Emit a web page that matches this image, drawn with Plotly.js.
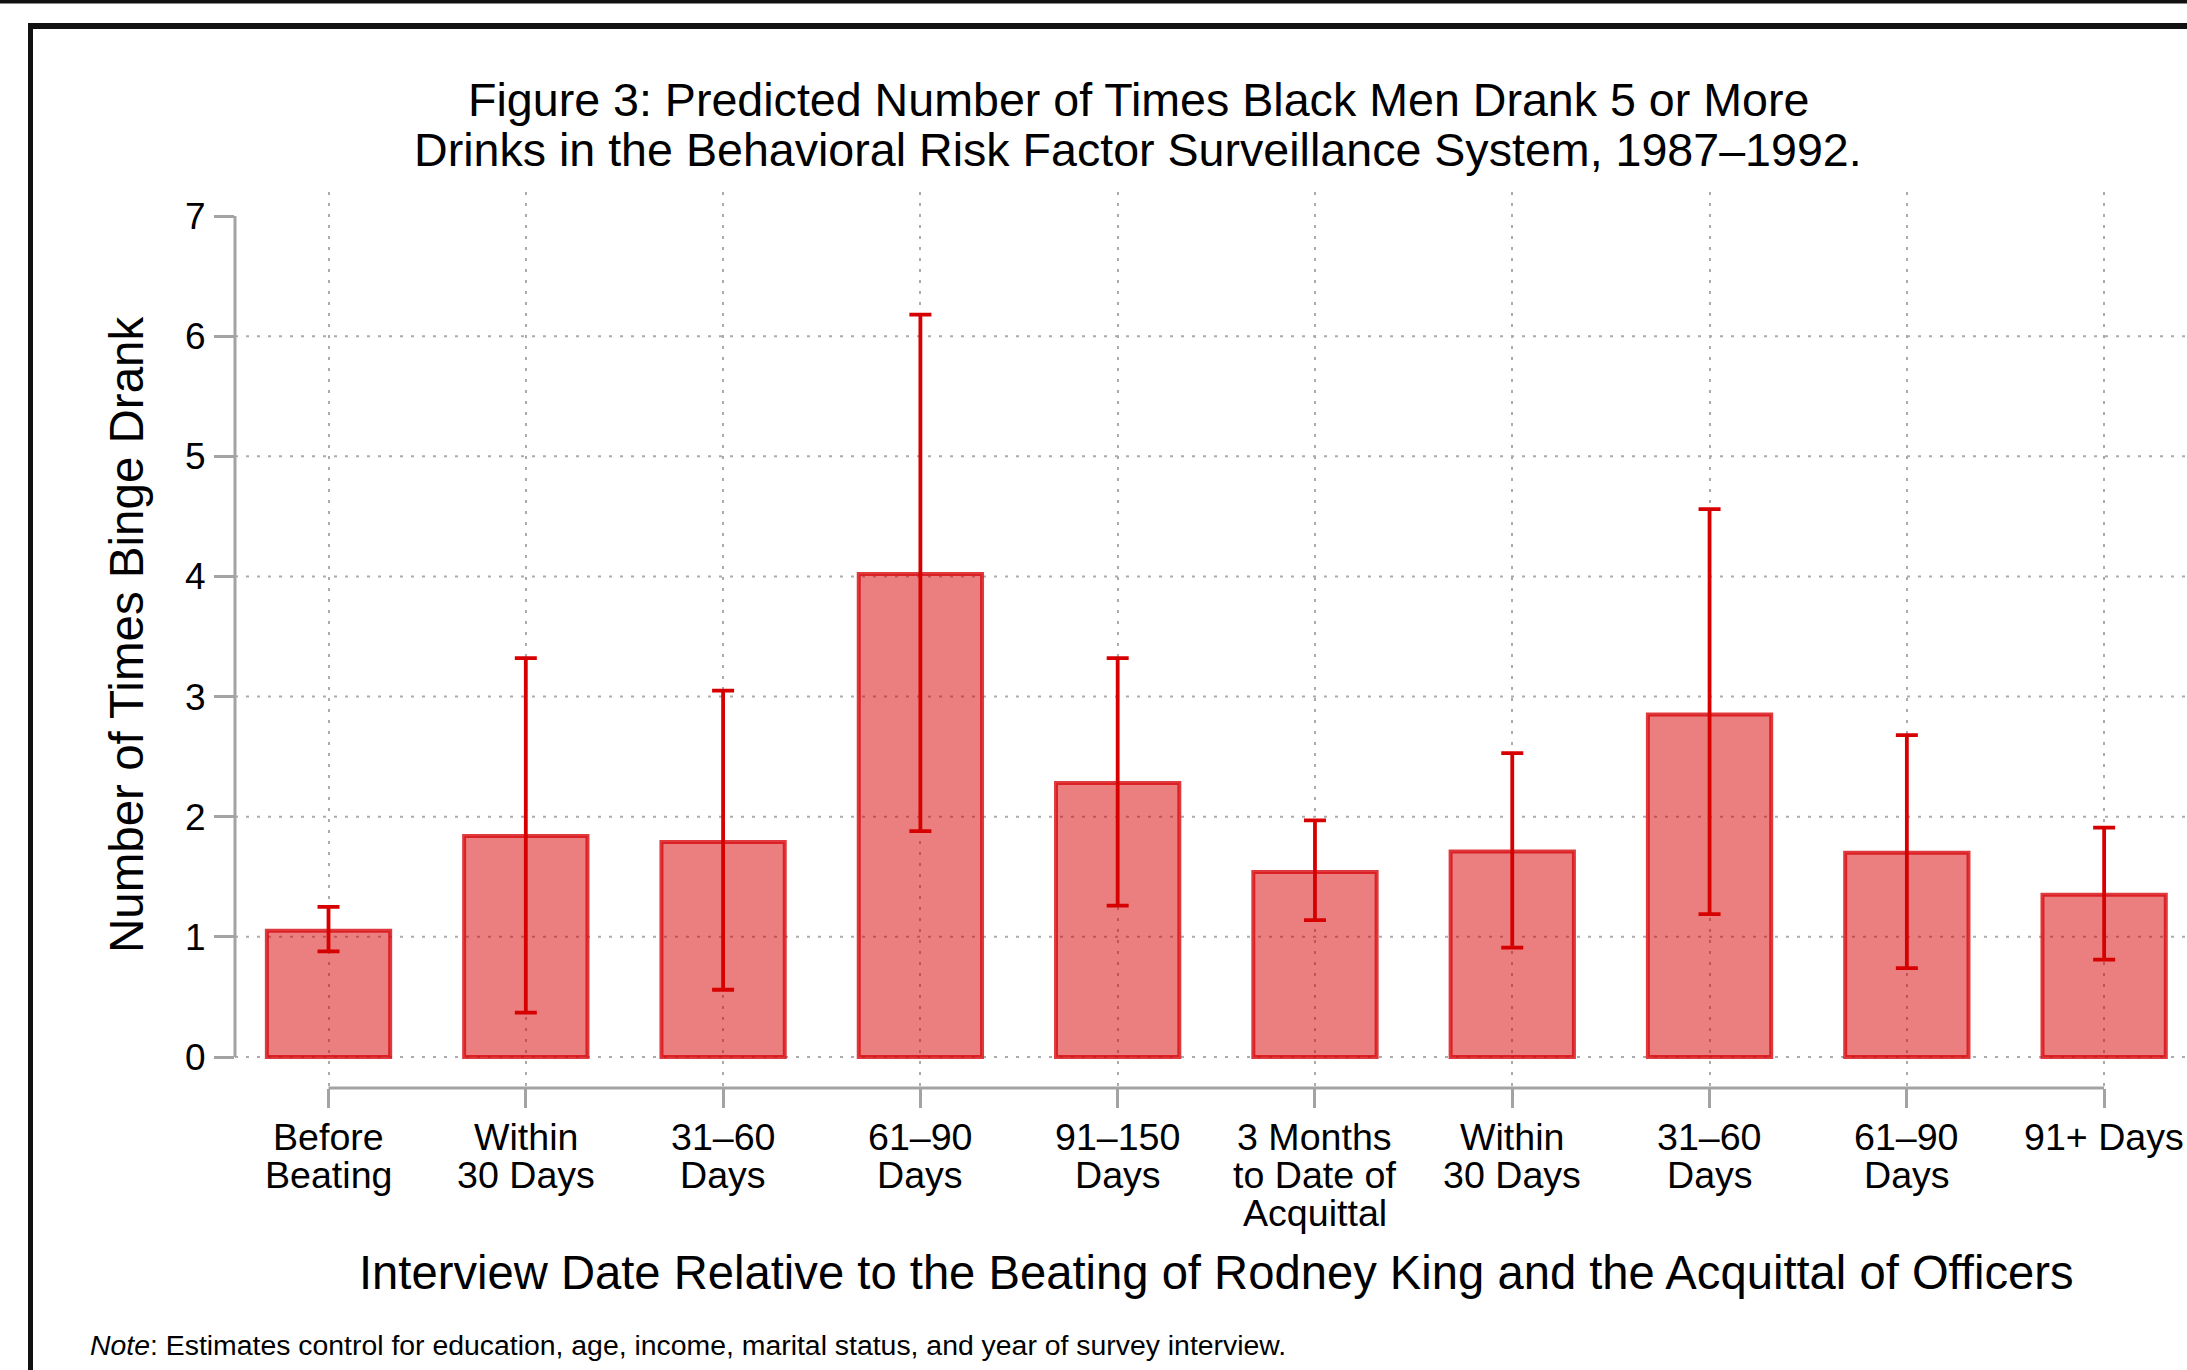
<!DOCTYPE html>
<html>
<head>
<meta charset="utf-8">
<script src="https://cdn.plot.ly/plotly-3.0.1.min.js"></script>
<style>
html, body { margin: 0; padding: 0; background: #ffffff; }
#chart { width: 2187px; height: 1370px; }
</style>
</head>
<body>
<div id="chart"></div>
<script>
// ---------- data ----------
const categories = [
  "Before<br>Beating",
  "Within<br>30 Days",
  "31–60<br>Days",
  "61–90<br>Days",
  "91–150<br>Days",
  "3 Months<br>to Date of<br>Acquittal",
  "Within<br>30 Days",
  "31–60<br>Days",
  "61–90<br>Days",
  "91+ Days"
];
const predicted = [1.05, 1.84, 1.79, 4.02, 2.28, 1.54, 1.71, 2.85, 1.70, 1.35];
const ciUpper   = [1.25, 3.32, 3.05, 6.18, 3.32, 1.97, 2.53, 4.56, 2.68, 1.91];
const ciLower   = [0.88, 0.37, 0.56, 1.88, 1.26, 1.14, 0.91, 1.19, 0.74, 0.81];
const yTickVals = [0, 1, 2, 3, 4, 5, 6, 7];

const titleLines = [
  "Figure 3: Predicted Number of Times Black Men Drank 5 or More",
  "Drinks in the Behavioral Risk Factor Surveillance System, 1987–1992."
];
const xTitle = "Interview Date Relative to the Beating of Rodney King and the Acquittal of Officers";
const yTitle = "Number of Times Binge Drank";
const noteText = "<i>Note</i>: Estimates control for education, age, income, marital status, and year of survey interview.";

// ---------- layout geometry ----------
const W = 2187, H = 1370;
const M = { l: 235, r: 0, t: 192, b: 282 };
const plotW = W - M.l - M.r, plotH = H - M.t - M.b;
const pxX = px => (px - M.l) / plotW;
const pxY = py => (H - M.b - py) / plotH;

const FONT = "Liberation Sans, Arial, Helvetica, sans-serif";
const RED = "rgb(215,0,0)";
const AXIS_GRAY = "#a3a3a3";
const GRID_GRAY = "#ababab";
const GRID_DASH = "3px,8px";

const xIdx = categories.map((_, i) => i);

const trace = {
  type: "bar",
  x: xIdx,
  y: predicted,
  marker: { color: "rgba(215,0,0,0.5)", line: { color: "rgba(215,10,15,0.8)", width: 4 } },
  error_y: {
    type: "data",
    symmetric: false,
    array: ciUpper.map((u, i) => u - predicted[i]),
    arrayminus: predicted.map((v, i) => v - ciLower[i]),
    color: RED,
    thickness: 3.8,
    width: 11
  },
  hoverinfo: "skip",
  showlegend: false
};

const annotations = [];
// category labels, one annotation per line for tight line spacing
categories.forEach((c, i) => {
  c.split("<br>").forEach((line, j) => {
    annotations.push({
      x: i, xref: "x", y: pxY(1137 + 38 * j), yref: "paper",
      text: line, showarrow: false, xanchor: "center", yanchor: "middle",
      font: { family: FONT, size: 37.6, color: "#000" }
    });
  });
});
titleLines.forEach((t, j) => {
  annotations.push({
    x: pxX(1138), xref: "paper", y: pxY(100 + 50 * j), yref: "paper",
    text: t, showarrow: false, xanchor: "center", yanchor: "middle",
    font: { family: FONT, size: 46.6, color: "#000" }
  });
});
annotations.push({
  x: pxX(1216), xref: "paper", y: pxY(1272), yref: "paper",
  text: xTitle, showarrow: false, xanchor: "center", yanchor: "middle",
  font: { family: FONT, size: 47.2, color: "#000" }
});
annotations.push({
  x: pxX(126), xref: "paper", y: pxY(635), yref: "paper",
  text: yTitle, showarrow: false, xanchor: "center", yanchor: "middle", textangle: -90,
  font: { family: FONT, size: 47.5, color: "#000" }
});
annotations.push({
  x: pxX(88), xref: "paper", y: pxY(1345), yref: "paper",
  text: noteText, showarrow: false, xanchor: "left", yanchor: "middle",
  font: { family: FONT, size: 28.4, color: "#000" }
});

const shapes = [];
// horizontal dotted gridlines (not at the top tick)
yTickVals.filter(v => v < Math.max(...yTickVals)).forEach(v => {
  shapes.push({
    type: "line", layer: "below", xref: "paper", x0: 0, x1: 1, yref: "y", y0: v, y1: v,
    line: { color: GRID_GRAY, width: 2, dash: GRID_DASH }
  });
});
// y axis line spanning the tick range
shapes.push({
  type: "line", xref: "paper", x0: 0, x1: 0, yref: "y",
  y0: Math.min(...yTickVals), y1: Math.max(...yTickVals),
  line: { color: AXIS_GRAY, width: 3 }
});
// x axis line spanning first to last category
shapes.push({
  type: "line", xref: "x", x0: xIdx[0], x1: xIdx[xIdx.length - 1], yref: "paper", y0: 0, y1: 0,
  line: { color: AXIS_GRAY, width: 3 }
});
// outer frame
shapes.push({ type: "line", xref: "paper", yref: "paper", x0: pxX(-20), x1: pxX(W + 20), y0: pxY(1.5), y1: pxY(1.5), line: { color: "#111", width: 4 } });
shapes.push({ type: "line", xref: "paper", yref: "paper", x0: pxX(28), x1: pxX(W + 20), y0: pxY(26), y1: pxY(26), line: { color: "#111", width: 6 } });
shapes.push({ type: "line", xref: "paper", yref: "paper", x0: pxX(30.5), x1: pxX(30.5), y0: pxY(23), y1: pxY(H + 20), line: { color: "#111", width: 5 } });

const layout = {
  width: W, height: H,
  margin: M,
  paper_bgcolor: "#ffffff",
  plot_bgcolor: "#ffffff",
  font: { family: FONT, color: "#000" },
  bargap: 0.375,
  showlegend: false,
  xaxis: {
    type: "linear",
    range: [-0.474, 9.42],
    tickmode: "array",
    tickvals: xIdx,
    showticklabels: false,
    ticks: "outside", ticklen: 19, tickwidth: 3, tickcolor: AXIS_GRAY,
    showgrid: true, gridcolor: GRID_GRAY, gridwidth: 2, griddash: GRID_DASH,
    zeroline: false, showline: false, fixedrange: true
  },
  yaxis: {
    range: [-0.258, 7.2],
    tickmode: "array",
    tickvals: yTickVals,
    ticks: "outside", ticklen: 20, tickwidth: 3, tickcolor: AXIS_GRAY,
    tickfont: { family: FONT, size: 37, color: "#000" },
    ticklabelstandoff: 1,
    showgrid: false, zeroline: false, showline: false, fixedrange: true
  },
  annotations: annotations,
  shapes: shapes
};

Plotly.newPlot("chart", [trace], layout, { displayModeBar: false, staticPlot: true });
</script>
</body>
</html>
